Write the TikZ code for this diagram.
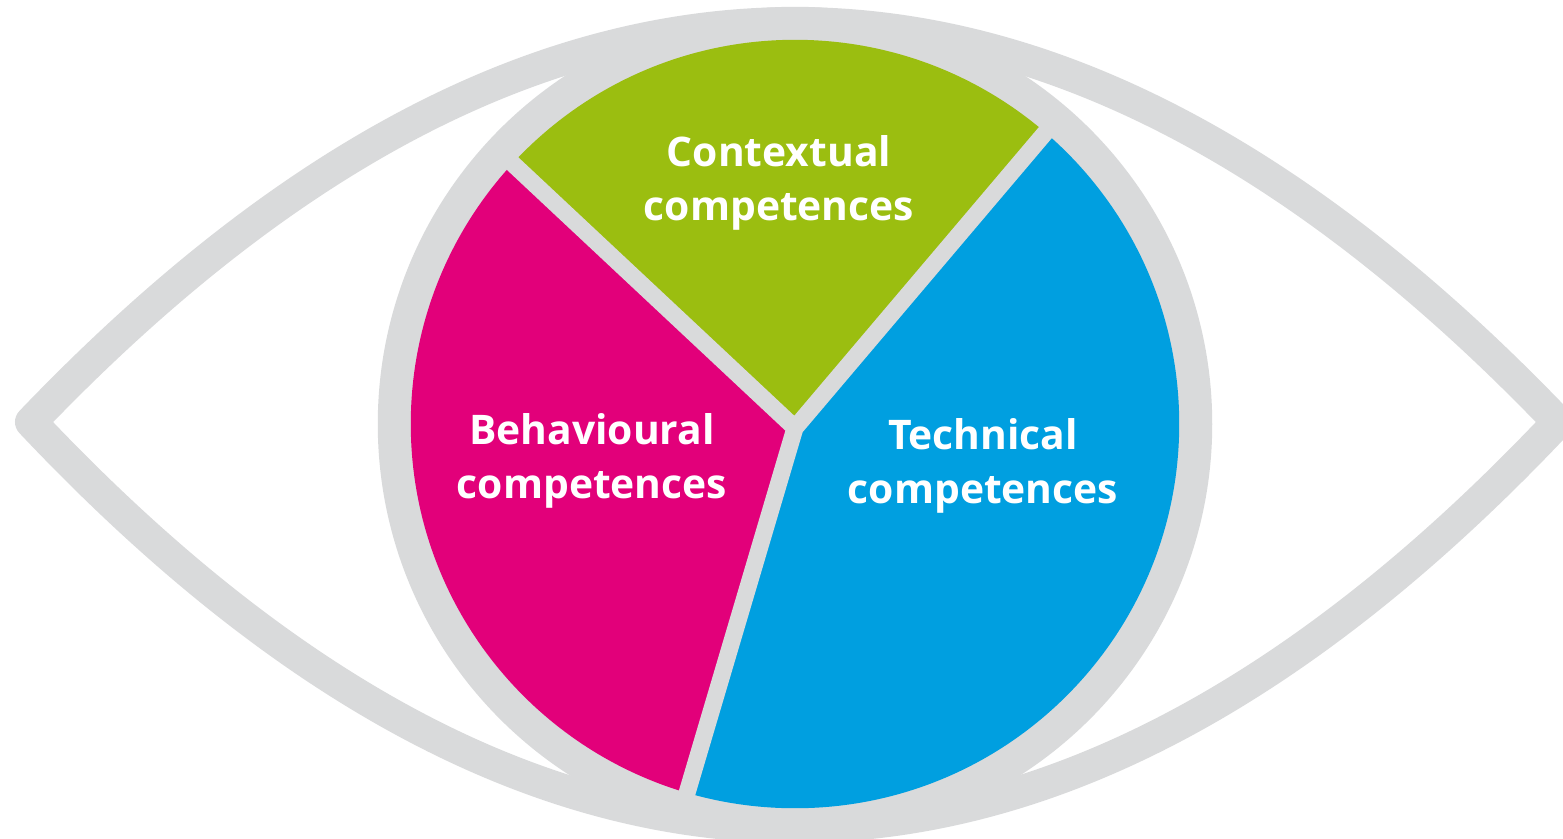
\documentclass[tikz,border=0pt]{standalone}
\usepackage{fontspec}
\setmainfont{Open Sans}
\usepackage{tikz}
\usetikzlibrary{calc}
\definecolor{eyegrey}{HTML}{D9DADB}
\definecolor{ctxgreen}{HTML}{9BBE10}
\definecolor{behpink}{HTML}{E2007A}
\definecolor{techblue}{HTML}{009FE0}
\tikzset{
    every node/.style={align=center,},
    comp/.style={text=white,font=\bfseries\fontsize{11.6}{15.1}\selectfont,anchor=base,},
    eyeline/.style={draw=eyegrey,line width=0.32cm,line join=round,},
    gap/.style={draw=eyegrey,line width=0.17cm,line cap=round,line join=round,},
}

\begin{document}
\begin{tikzpicture}[x=0.01cm,y=-0.01cm]
                \useasboundingbox (0,0) rectangle (1563,838);

                % eye outline
                \coordinate (left) at (31,422);
                \coordinate (right) at (1558,422);
                \draw[eyeline] (left) .. controls (540,-110) and (1049,-110) .. (right)
                    .. controls (1049,962) and (540,962) .. (left) -- cycle;

                % iris
                \coordinate (c) at (795,424);
                \coordinate (j) at (795,428);
                \coordinate (b1) at (512,163);
                \coordinate (b2) at (1045,133);
                \coordinate (b3) at (687,793);
                \fill[eyegrey] (c) circle[radius=4.17cm];
                \begin{scope}
                    \clip (c) circle[radius=3.84cm];
                    \fill[ctxgreen] (j) -- ($(j)!3!(b1)$) -- ($(j)!3!(b2)$) -- cycle;
                    \fill[techblue] (j) -- ($(j)!3!(b2)$) -- (1700,-500) -- (1700,1700) -- ($(j)!3!(b3)$) -- cycle;
                    \fill[behpink] (j) -- ($(j)!3!(b3)$) -- (-200,1700) -- (-200,-500) -- ($(j)!3!(b1)$) -- cycle;
                \end{scope}
                \draw[gap] (b1) -- (j) -- (b2) (j) -- (b3);

                \node[comp] (ctx) at (779,220) {Contextual\\competences};
                \node[comp] (beh) at (592,498) {Behavioural\\competences};
                \node[comp] (tech) at (983,503) {Technical\\competences};
            \end{tikzpicture}
\end{document}
